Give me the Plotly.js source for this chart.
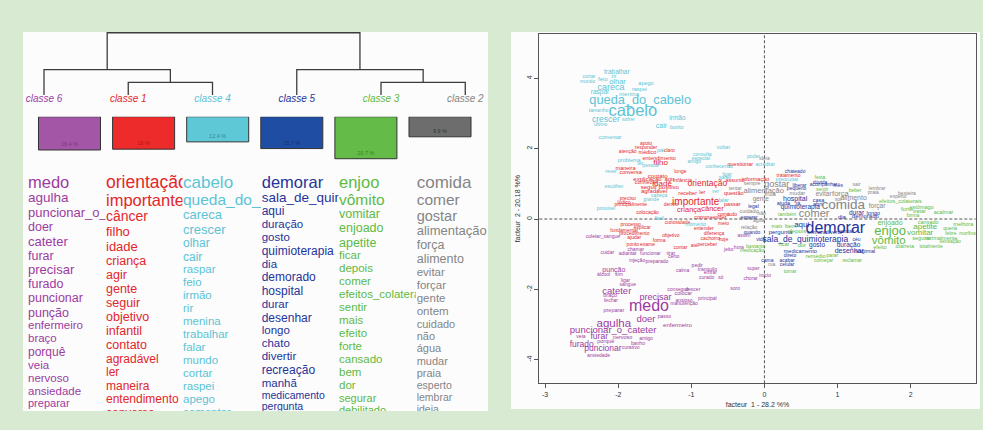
<!DOCTYPE html>
<html><head><meta charset="utf-8">
<script src="https://cdn.plot.ly/plotly-3.0.1.min.js"></script>
<style>html,body{margin:0;padding:0;background:#d9ead3;}#chart{width:983px;height:430px;}</style>
</head><body><div id="chart"></div>
<script>
// ===== Dendrogram / classes =====
const classOrder = ['classe 6','classe 1','classe 4','classe 5','classe 3','classe 2'];
const classPct = [16.4, 16, 12.4, 15.7, 20.7, 9.9];
const mergeLeft = [1, 4, 0, 3, 8];
const mergeRight = [2, 5, 6, 7, 9];
const mergeHeight = [1, 1, 2, 2, 4.9];

// ===== Word lists per class (left panel), with scores =====
const listWords6 = ['medo','agulha','puncionar_o_cateter','doer','cateter','furar','precisar','furado','puncionar','punção','enfermeiro','braço','porquê','veia','nervoso','ansiedade','preparar'];
const listScore6 = [25,19,18,17,18,17,18,17,17,17,15,15,16,15,15,15,14];
const listWords1 = ['orientação','importante','câncer','filho','idade','criança','agir','gente','seguir','objetivo','infantil','contato','agradável','ler','maneira','entendimento','conversa'];
const listScore1 = [27,25,20,18,18,17,17,17,17,17,17,17,16,16,16,16,16];
const listWords4 = ['cabelo','queda_do_cabelo','careca','crescer','olhar','cair','raspar','feio','irmão','rir','menina','trabalhar','falar','mundo','cortar','raspei','apego','comentar'];
const listScore4 = [26,23,18,18,16,16,15,15,15,15,15,15,15,15,15,15,15,15];
const listWords5 = ['demorar','sala_de_quimioterapia','aqui','duração','gosto','quimioterapia','dia','demorado','hospital','durar','desenhar','longo','chato','divertir','recreação','manhã','medicamento','pergunta'];
const listScore5 = [25,19,16,15,15,16,15,16,16,15,16,15,15,15,16,15,13,13];
const listWords3 = ['enjoo','vômito','vomitar','enjoado','apetite','ficar','depois','comer','efeitos_colaterais','sentir','mais','efeito','forte','cansado','bem','dor','segurar','debilitado'];
const listScore3 = [25,23,17,17,17,15,15,15,15,15,15,15,15,15,15,15,14,14];
const listWords2 = ['comida','comer','gostar','alimentação','força','alimento','evitar','forçar','gente','ontem','cuidado','não','água','mudar','praia','esperto','lembrar','ideia'];
const listScore2 = [26,23,21,18,17,17,15,15,15,15,14,14,14,14,14,13,13,13];

// ===== Factorial map (AFC) words per class =====
const words6 = ['medo','agulha','puncionar_o_cateter','cateter','precisar','doer','furar','furado','puncionar','punção','álcool','sim','braço','fechar','preparar','enfermeiro','passo','nervoso','veia','porquê','amigo','banho','curativo','ansiedade','ligar','sangue','conseguir','descer','colocar','principal','ansioso','manutenção','calma','pedir','tranquilo','entrar','curado','só','soro','cuidar','adiantar','funcionar','injeção','preparado','chamar','tirar','certo','coletar_sangue','assim','hora','jeito','super','chorar','início'];
const f1_6 = [-1.58,-2.06,-2.07,-2.02,-1.49,-1.62,-2.26,-2.50,-2.21,-2.06,-2.20,-1.99,-2.11,-2.10,-2.06,-1.19,-1.37,-1.94,-2.51,-2.17,-1.62,-1.73,-1.83,-2.27,-1.90,-1.87,-1.18,-0.98,-1.11,-0.78,-1.10,-1.10,-1.12,-0.92,-0.78,-0.74,-0.79,-0.60,-0.40,-2.15,-1.87,-1.56,-1.74,-1.47,-1.76,-1.28,-1.24,-2.21,-0.28,-0.35,-0.49,-0.15,-0.19,0.01];
const f2_6 = [-2.51,-2.98,-3.18,-2.05,-2.25,-2.85,-3.36,-3.58,-3.70,-1.47,-1.59,-1.59,-2.19,-2.32,-2.59,-3.03,-2.78,-3.37,-3.36,-3.48,-3.39,-3.55,-3.67,-3.88,-1.76,-1.88,-2.00,-2.00,-2.11,-2.28,-2.32,-2.42,-1.47,-1.32,-1.43,-1.54,-1.66,-1.66,-1.99,-0.97,-1.00,-1.00,-1.18,-1.21,-0.88,-0.99,-1.07,-0.50,-0.48,-0.81,-0.86,-1.42,-1.70,-1.62];
const sc6 = [24,15,11,11,10,11,9,9,9,6,2,2,3,2,3,4,2,3,2,3,2,2,2,2,2,2,2,2,3,2,2,2,2,2,2,2,2,2,2,2,2,2,2,2,2,2,2,2,2,2,2,2,2,2];

const words1 = ['apoio','responder','atenção','médico','claro','entendimento','filho','maneira','conversa','longe','questionar','contato','agir','explicação','infância','conhecer','idade','orientação','assunto','informação','seguir','positivo','agradável','receber','ler','questão','preciso','lúdico','principalmente','importante','dentro','criança','câncer','passar','colocação','como','tudo','compreender','tratamento','ponto','exame','forma','contar','fundamental','procedimento','ajudar','objetivo','explicar','processo','curiosidade','diferença','entender','cachorro','hoje','perceber','até','meio'];
const f1_1 = [-1.62,-1.62,-1.87,-1.60,-1.30,-1.44,-1.42,-1.90,-1.83,-1.15,-0.33,-1.46,-1.30,-1.60,-1.12,-1.62,-1.40,-0.78,-0.40,-0.12,-1.58,-1.31,-1.51,-1.05,-0.85,-0.42,-1.87,-1.92,-1.83,-0.94,-1.28,-1.03,-0.71,-0.44,-1.60,-0.56,-0.44,-0.74,0.33,-1.80,-1.60,-1.44,-1.15,-1.92,-1.78,-1.78,-1.28,-1.67,-1.83,-1.19,-0.69,-0.83,-0.74,-0.56,-0.78,-0.96,-0.56];
const f2_1 = [2.13,2.02,1.90,1.88,1.93,1.71,1.58,1.43,1.33,1.33,1.56,1.22,1.13,1.13,1.09,1.03,0.99,1.01,1.09,1.11,0.89,0.89,0.77,0.73,0.75,0.71,0.59,0.47,0.40,0.46,0.40,0.26,0.28,0.41,0.18,0.11,0.11,0.05,1.23,-0.74,-0.74,-0.63,-0.82,-0.33,-0.43,-0.52,-0.47,-0.24,-0.17,-0.10,-0.43,-0.29,-0.55,-0.60,-0.72,-0.77,-0.12];
const sc1 = [2,2,2,3,2,3,8,3,3,2,3,4,4,4,3,3,8,9,3,3,4,4,4,3,3,3,2,2,2,12,2,7,7,3,2,2,2,3,2,2,2,2,2,2,2,2,2,2,2,2,2,2,2,2,2,2,2];

const words4 = ['trabalhar','rir','cortar','mundo','feio','olhar','apego','careca','raspei','raspar','menina','queda_do_cabelo','tamanho','cabelo','crescer','sofrer','último','irmão','cair','bonito','comentar','voltar','pai','problema','ter','pessoa','rever','consulta','especial','amigo','conhecendo','escolher','cabeça','grande','ver','falar','possível','fácil','poder','acreditar','preocupar','momento','ligar','saber'];
const f1_4 = [-2.02,-2.06,-2.40,-2.42,-2.21,-2.01,-1.62,-2.10,-1.71,-2.25,-1.85,-1.70,-2.27,-1.80,-2.17,-1.86,-2.24,-1.19,-1.41,-1.20,-2.11,-0.56,-1.42,-1.85,-1.70,-1.56,-2.10,-0.85,-0.87,-0.96,-0.62,-2.06,-1.44,-1.55,-0.67,-0.56,-2.17,-1.44,-0.15,0.01,0.31,-0.94,-0.51,-0.54];
const f2_4 = [4.17,4.06,4.04,3.90,3.97,3.88,3.85,3.74,3.69,3.60,3.54,3.37,3.07,3.06,2.83,2.83,2.68,2.85,2.65,2.59,2.31,2.04,1.94,1.66,1.56,1.51,1.33,1.82,1.72,1.63,1.49,0.92,0.65,0.54,0.78,0.51,0.28,0.02,1.77,1.53,1.11,-0.17,1.25,1.16];
const sc4 = [5,3,2,2,4,7,3,10,3,5,4,17.6,2,25,9,2,2,5,6,2,3,3,3,3,2,2,2,2,2,2,2,2,2,2,2,3,2,2,2,2,2,2,2,2];

const words2 = ['gostar','alimentação','sempre','tentar','fruta','gente','mudar','evitar','força','sair','lembrar','praia','besteira','esperto','alimento','sol','comida','forçar','comer','cuidado','não','relação','água','ontem','rua','ideia'];
const f1_2 = [0.17,-0.01,-0.17,-0.40,0.08,-0.05,0.45,0.81,1.04,1.26,1.54,1.49,1.95,1.83,1.22,1.01,1.08,1.54,0.68,-0.21,-0.04,-0.21,-0.08,-0.25,0.10,0.00];
const f2_2 = [0.97,0.80,0.99,0.87,0.68,0.56,0.71,0.71,0.71,0.97,0.86,0.75,0.71,0.62,0.59,0.56,0.37,0.37,0.14,0.21,0.16,-0.25,-0.05,0.02,-1.29,1.72];
const sc2 = [10,7,2,2,3,5,3,5,7,2,2,2,2,2,6,2,19,5,14,3,2,2,2,2,2,2];

const words5 = ['chateado','dúvida','acompanhar','mês','liberar','pequeno','hospital','casa','ajuda','já','abrir','quimioterapia','legal','durar','longo','dia','demorado','esperar','quando','aqui','demorar','pergunta','semana','divertir','pintar','sala_de_quimioterapia','vida','céu','gosto','duração','desenhar','medicamento','reagir','mal','direto','cama','acabar','celular'];
const f1_5 = [0.42,0.76,0.81,1.01,0.48,0.44,0.42,0.74,0.26,0.46,0.74,0.49,-0.15,1.26,1.49,1.06,1.38,-0.21,-0.17,0.51,0.97,0.22,0.72,0.95,1.13,0.56,-0.05,1.26,0.72,1.15,1.16,0.49,1.32,1.46,0.35,0.04,0.31,0.31];
const f2_5 = [1.33,1.03,0.97,0.96,0.95,0.85,0.57,0.51,0.45,0.45,0.42,0.32,0.35,0.16,0.14,0.05,0.07,0.05,-0.38,-0.17,-0.27,-0.39,-0.39,-0.39,-0.36,-0.60,-0.60,-0.60,-0.75,-0.75,-0.91,-0.93,-0.93,-0.93,-1.05,-1.18,-1.18,-1.29];
const sc5 = [2,2,2,2,2,2,6,3,3,3,3,5,2,5,3,4,4,2,2,8,24,4,3,3,3,9,2,2,5,5,6,3,2,2,2,2,2,2];

const words3 = ['enjoo','vômito','vomitar','apetite','enjoado','cansado','melhora','queria','febre','morfina','segurar','normalmente','sensação','efeito','diarreia','totalmente','depois','bem','mais','dor','remédio','parar','começar','reclamar','tomar','forte','tratar','acalmar','estômago','efeitos_colaterais','festa','beber','sentir','também','medicação','bastante','ficar','forma'];
const f1_3 = [1.72,1.70,2.13,2.20,1.72,2.24,2.72,2.54,2.55,2.78,2.15,2.42,2.54,1.58,1.92,2.28,0.45,0.36,0.17,0.51,0.70,0.93,0.81,1.20,0.35,1.95,2.12,2.45,2.15,1.86,0.76,1.24,0.79,0.31,-0.17,-0.12,0.27,2.03];
const f2_3 = [-0.36,-0.64,-0.41,-0.22,-0.12,-0.10,-0.17,-0.27,-0.41,-0.41,-0.55,-0.55,-0.64,-0.81,-0.79,-0.79,-0.36,-0.22,-0.22,-0.74,-1.07,-1.05,-1.19,-1.19,-1.50,0.26,0.22,0.19,0.33,0.49,1.16,0.80,0.84,0.11,-0.91,-0.78,-0.72,0.09];
const sc3 = [18,15,8,8,6,3,3,2,2,2,3,3,2,3,3,2,4,4,2,4,3,2,2,2,2,4,3,3,3,3,2,2,2,2,2,2,3,2];

const xTickVals = [-3,-2,-1,0,1,2];
const xTickText = ['-3','-2','-1','0','1','2'];
const yTickVals = [-4,-2,0,2,4];
const yTickText = ['-4','-2','0','2','4'];
const xTitle = 'facteur  1 - 28.2 %%';
const yTitle = 'facteur  2 - 20.18 %%';

// ===== Styles =====
const W = 983, H = 430;
const FONT = 'Liberation Sans, Arial, Helvetica, sans-serif';
const textCol = ['#9c3b9f','#e3262a','#5cc3d4','#25339a','#5cba45','#858585'];
const boxCol  = ['#a256a5','#ee2b2b','#5ec8d7','#1f4da3','#64bb47','#6d6d6d'];
const pctCol  = ['rgba(90,20,90,0.55)','rgba(110,0,0,0.55)','rgba(0,90,100,0.6)','rgba(10,20,90,0.6)','rgba(20,80,10,0.6)','rgba(0,0,0,0.6)'];
const sz = s => 4 + s / 2;

const traces = [];

// Dendrogram
const nodeX = classOrder.map((_, i) => i);
const nodeH = classOrder.map(() => 0);
const dX = [], dY = [];
for (let k = 0; k < mergeLeft.length; k++) {
  const a = mergeLeft[k], b = mergeRight[k], h = mergeHeight[k];
  dX.push(nodeX[a], nodeX[a], nodeX[b], nodeX[b], null);
  dY.push(nodeH[a], h, h, nodeH[b], null);
  nodeX.push((nodeX[a] + nodeX[b]) / 2); nodeH.push(h);
}
traces.push({type:'scatter', mode:'lines', x:dX, y:dY, xaxis:'x2', yaxis:'y2',
  line:{color:'#3c3c3c', width:1.3}, hoverinfo:'skip'});
traces.push({type:'scatter', mode:'text', x:classOrder.map((_, i) => i), y:classOrder.map(() => -0.34),
  text:classOrder, textposition:'middle center', xaxis:'x2', yaxis:'y2', cliponaxis:false,
  textfont:{family:FONT, size:10, color:textCol, style:'italic'}, hoverinfo:'skip'});

// Class boxes
traces.push({type:'bar', x:classOrder.map((_, i) => i), y:classPct, xaxis:'x3', yaxis:'y3', width:0.837,
  marker:{color:boxCol, line:{color:'#333', width:1}},
  text:classPct.map(v => v + ' %'), textposition:'inside', insidetextanchor:'end', textangle:0,
  insidetextfont:{family:FONT, size:5.5, color:pctCol}, hoverinfo:'skip'});

// Word columns
const lists = [[listWords6,listScore6],[listWords1,listScore1],[listWords4,listScore4],[listWords5,listScore5],[listWords3,listScore3],[listWords2,listScore2]];
const colStart = [28,106,183,261.7,339,416.7];
const colEnd = [105.5,182.5,261,338.5,416,488];
lists.forEach(([w, s], c) => {
  const ys = [];
  let y = 183.5;
  s.forEach((v, i) => { if (i > 0) y += 1.13 * sz(v); ys.push(y); });
  traces.push({type:'scatter', mode:'text', x:w.map(() => 0), y:ys, text:w,
    textposition:'middle right', xaxis:'x' + (4 + c), yaxis:'y4', cliponaxis:true,
    textfont:{family:FONT, size:s.map(sz), color:textCol[c]}, hoverinfo:'skip'});
});

// AFC map
const afc = [[words6,f1_6,f2_6,sc6],[words1,f1_1,f2_1,sc1],[words4,f1_4,f2_4,sc4],[words5,f1_5,f2_5,sc5],[words3,f1_3,f2_3,sc3],[words2,f1_2,f2_2,sc2]];
afc.forEach(([w, x, y, s], c) => {
  traces.push({type:'scatter', mode:'text', x:x, y:y, text:w, textposition:'middle center',
    xaxis:'x', yaxis:'y', cliponaxis:true,
    textfont:{family:FONT, size:s.map(sz), color:textCol[c]}, hoverinfo:'skip'});
});

const hidden = {visible:false, showgrid:false, zeroline:false, fixedrange:true};
const layout = {
  width:W, height:H, margin:{l:0, r:0, t:0, b:0},
  paper_bgcolor:'#d9ead3', plot_bgcolor:'rgba(0,0,0,0)', showlegend:false,
  font:{family:FONT},
  xaxis:{domain:[539.3/W, 975.7/W], range:[-3.08, 2.89], anchor:'y',
    tickvals:xTickVals, ticktext:xTickText, ticks:'outside', ticklen:4, tickcolor:'#555', tickwidth:1,
    tickfont:{size:7, color:'#333'}, showgrid:false, zeroline:false,
    showline:true, mirror:true, linecolor:'#555', linewidth:1,
    title:{text:xTitle, font:{size:7, color:'#333'}, standoff:5}},
  yaxis:{domain:[(H-383.3)/H, (H-34)/H], range:[-4.67, 5.26], anchor:'x',
    tickvals:yTickVals, ticktext:yTickText, tickangle:-90, ticks:'outside', ticklen:4, tickcolor:'#555', tickwidth:1,
    tickfont:{size:7, color:'#333'}, showgrid:false, zeroline:false,
    showline:true, mirror:true, linecolor:'#555', linewidth:1,
    title:{text:yTitle, font:{size:7, color:'#333'}, standoff:4}},
  xaxis2:Object.assign({domain:[35.57/W, 473.7/W], range:[-0.1, 5.1], anchor:'y2'}, hidden),
  yaxis2:Object.assign({domain:[(H-101.35)/H, (H-30.23)/H], range:[-0.5, 5.1], anchor:'x2'}, hidden),
  xaxis3:Object.assign({domain:[32.45/W, 477.05/W], range:[-0.5, 5.5], anchor:'y3'}, hidden),
  yaxis3:Object.assign({domain:[(H-167.45)/H, (H-116.7)/H], range:[25, 0], anchor:'x3'}, hidden),
  yaxis4:Object.assign({domain:[(H-411)/H, (H-170)/H], range:[411, 170], anchor:'x4'}, hidden),
  shapes:[
    {type:'rect', xref:'paper', yref:'paper', x0:23/W, x1:488/W, y0:(H-411)/H, y1:(H-32)/H,
      fillcolor:'#fcfcfc', line:{width:0}, layer:'below'},
    {type:'rect', xref:'paper', yref:'paper', x0:511/W, x1:980/W, y0:(H-409)/H, y1:(H-32)/H,
      fillcolor:'#fcfcfc', line:{width:0}, layer:'below'},
    {type:'line', xref:'x', yref:'y domain', x0:0, x1:0, y0:0, y1:1, line:{color:'#444', width:0.9, dash:'3px,2px'}, layer:'below'},
    {type:'line', xref:'x domain', yref:'y', x0:0, x1:1, y0:0, y1:0, line:{color:'#444', width:0.9, dash:'3px,2px'}, layer:'below'}
  ]
};
for (let c = 0; c < 6; c++) {
  layout['xaxis' + (4 + c)] = Object.assign({domain:[colStart[c]/W, colEnd[c]/W], range:[0, colEnd[c] - colStart[c]], anchor:'y4'}, hidden);
}
Plotly.newPlot('chart', traces, layout, {displayModeBar:false, staticPlot:true});
</script></body></html>
